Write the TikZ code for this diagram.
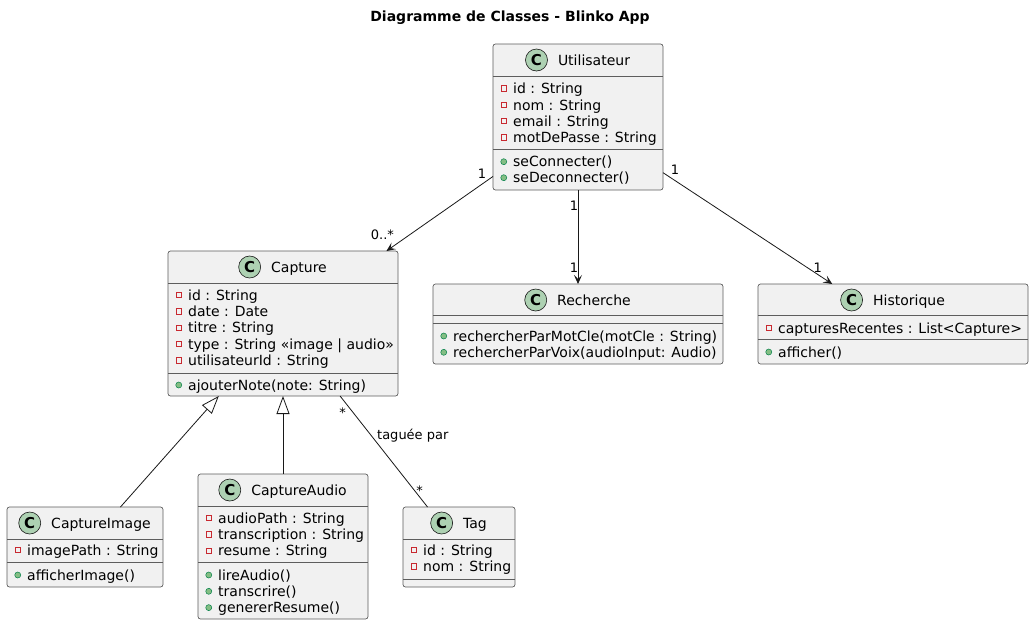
\documentclass[tikz,border=0pt]{standalone}
\usepackage{fontspec}
\setmainfont{DejaVu Sans}
\usetikzlibrary{positioning,arrows.meta}
\definecolor{boxfill}{HTML}{F1F1F1}
\definecolor{boxline}{HTML}{181818}
\definecolor{spotfill}{HTML}{ADD1B2}
\definecolor{privred}{HTML}{C82930}
\definecolor{pubfill}{HTML}{84BE84}
\definecolor{publine}{HTML}{038048}
\tikzstyle{classbox} = [rectangle, draw=boxline!70, fill=boxfill, line width=0.7pt,
    rounded corners=2.5pt, inner sep=0pt, outer sep=0pt]
\tikzstyle{classname} = [inner sep=0pt, font=\fontsize{14}{16}\selectfont,
    text height=10.5pt, text depth=0pt]
\tikzstyle{spot} = [circle, draw=boxline, fill=spotfill, line width=0.6pt,
    minimum size=22pt, inner sep=0pt, font=\fontsize{15}{16}\selectfont\bfseries]
\tikzstyle{member} = [anchor=west, inner sep=0pt, font=\fontsize{14}{16}\selectfont,
    text height=10.5pt, text depth=0pt]
\tikzstyle{privmark} = [rectangle, draw=privred, line width=0.6pt, minimum size=5.5pt, inner sep=0pt]
\tikzstyle{pubmark} = [circle, draw=publine, fill=pubfill, line width=0.5pt, minimum size=6pt, inner sep=0pt]
\tikzstyle{priv} = [member, label={[privmark, label distance=6pt]left:{}}]
\tikzstyle{pub} = [member, label={[pubmark, label distance=6pt]left:{}}]
\tikzstyle{sep} = [draw=boxline!70, line width=0.7pt]
\tikzstyle{line} = [draw=boxline, line width=0.8pt, -{Stealth[length=9pt,width=8pt,inset=4pt]}]
\tikzstyle{extends} = [draw=boxline, line width=0.8pt, -{Triangle[open,length=18pt,width=13pt]}]
\tikzstyle{link} = [draw=boxline, line width=0.8pt]
\tikzstyle{mult} = [font=\fontsize{13}{15}\selectfont, inner sep=0pt]

\begin{document}
\begin{tikzpicture}[x=1pt, y=-1pt]
    \fill[white] (0,0) rectangle (1034,625);
    \useasboundingbox (0,0) rectangle (1034,625);
    \node [font=\fontsize{14}{16}\selectfont\bfseries] (Title) at (510,18) {Diagramme de Classes - Blinko App};
    % Place classes
    \node [classbox, minimum width=170pt, minimum height=146pt] (Utilisateur) at (578,117) {};
    \node [classbox, minimum width=230pt, minimum height=145pt] (Capture) at (283,323.5) {};
    \node [classbox, minimum width=290pt, minimum height=80pt] (Recherche) at (578,324) {};
    \node [classbox, minimum width=270pt, minimum height=80pt] (Historique) at (893,324) {};
    \node [classbox, minimum width=156pt, minimum height=80pt] (CaptureImage) at (85,547) {};
    \node [classbox, minimum width=170pt, minimum height=145pt] (CaptureAudio) at (283,546.5) {};
    \node [classbox, minimum width=112pt, minimum height=80pt] (Tag) at (459,547) {};
    % Headers
    \node [classname] (UtilisateurName) at (594,60) {Utilisateur};
    \node [spot, left=10pt of UtilisateurName] (UtilisateurSpot) {C};
    \node [classname] (CaptureName) at (299,267) {Capture};
    \node [spot, left=10pt of CaptureName] (CaptureSpot) {C};
    \node [classname] (RechercheName) at (594,300) {Recherche};
    \node [spot, left=10pt of RechercheName] (RechercheSpot) {C};
    \node [classname] (HistoriqueName) at (909,300) {Historique};
    \node [spot, left=10pt of HistoriqueName] (HistoriqueSpot) {C};
    \node [classname] (CaptureImageName) at (101,523) {CaptureImage};
    \node [spot, left=10pt of CaptureImageName] (CaptureImageSpot) {C};
    \node [classname] (CaptureAudioName) at (299,490) {CaptureAudio};
    \node [spot, left=10pt of CaptureAudioName] (CaptureAudioSpot) {C};
    \node [classname] (TagName) at (475,523) {Tag};
    \node [spot, left=10pt of TagName] (TagSpot) {C};
    % Compartment lines
    \draw [sep] ([yshift=-32pt]Utilisateur.north west) -- ([yshift=-32pt]Utilisateur.north east);
    \draw [sep] ([yshift=-105pt]Utilisateur.north west) -- ([yshift=-105pt]Utilisateur.north east);
    \draw [sep] ([yshift=-32pt]Capture.north west) -- ([yshift=-32pt]Capture.north east);
    \draw [sep] ([yshift=-122pt]Capture.north west) -- ([yshift=-122pt]Capture.north east);
    \draw [sep] ([yshift=-31pt]Recherche.north west) -- ([yshift=-31pt]Recherche.north east);
    \draw [sep] ([yshift=-39pt]Recherche.north west) -- ([yshift=-39pt]Recherche.north east);
    \draw [sep] ([yshift=-31pt]Historique.north west) -- ([yshift=-31pt]Historique.north east);
    \draw [sep] ([yshift=-55pt]Historique.north west) -- ([yshift=-55pt]Historique.north east);
    \draw [sep] ([yshift=-32pt]CaptureImage.north west) -- ([yshift=-32pt]CaptureImage.north east);
    \draw [sep] ([yshift=-55pt]CaptureImage.north west) -- ([yshift=-55pt]CaptureImage.north east);
    \draw [sep] ([yshift=-32pt]CaptureAudio.north west) -- ([yshift=-32pt]CaptureAudio.north east);
    \draw [sep] ([yshift=-88pt]CaptureAudio.north west) -- ([yshift=-88pt]CaptureAudio.north east);
    \draw [sep] ([yshift=-32pt]Tag.north west) -- ([yshift=-32pt]Tag.north east);
    \draw [sep] ([yshift=-72pt]Tag.north west) -- ([yshift=-72pt]Tag.north east);
    % Members
    \node [priv] (UtilisateurId) at (513,88.5) {id : String};
    \node [priv] (UtilisateurNom) at (513,104.8) {nom : String};
    \node [priv] (UtilisateurEmail) at (513,121) {email : String};
    \node [priv] (UtilisateurMdp) at (513,137.3) {motDePasse : String};
    \node [pub] (UtilisateurCo) at (513,161.7) {seConnecter()};
    \node [pub] (UtilisateurDeco) at (513,177.7) {seDeconnecter()};
    \node [priv] (CaptureId) at (188,295) {id : String};
    \node [priv] (CaptureDate) at (188,311.3) {date : Date};
    \node [priv] (CaptureTitre) at (188,327.6) {titre : String};
    \node [priv] (CaptureType) at (188,344) {type : String «image | audio»};
    \node [priv] (CaptureUser) at (188,360.3) {utilisateurId : String};
    \node [pub] (CaptureNote) at (188,385) {ajouterNote(note: String)};
    \node [pub] (RechercheMotCle) at (453,336) {rechercherParMotCle(motCle : String)};
    \node [pub] (RechercheVoix) at (453,352.3) {rechercherParVoix(audioInput: Audio)};
    \node [priv] (HistoriqueListe) at (778,328) {capturesRecentes : List<Capture>};
    \node [pub] (HistoriqueAff) at (778,352) {afficher()};
    \node [priv] (CaptureImagePath) at (27,550) {imagePath : String};
    \node [pub] (CaptureImageAff) at (27,575) {afficherImage()};
    \node [priv] (CaptureAudioPath) at (218,518) {audioPath : String};
    \node [priv] (CaptureAudioTrans) at (218,534.3) {transcription : String};
    \node [priv] (CaptureAudioRes) at (218,550.6) {resume : String};
    \node [pub] (CaptureAudioLire) at (218,575) {lireAudio()};
    \node [pub] (CaptureAudioTranscr) at (218,591.3) {transcrire()};
    \node [pub] (CaptureAudioGen) at (218,607.6) {genererResume()};
    \node [priv] (TagId) at (423,550) {id : String};
    \node [priv] (TagNom) at (423,566.3) {nom : String};
    % Draw edges
    \path [line] (Utilisateur) -- node[mult, pos=0, xshift=-11pt, yshift=3pt] (mCapA) {1}
        node[mult, pos=1, xshift=-4pt, yshift=16pt] (mCapB) {0..*} (Capture);
    \path [line] (Utilisateur) -- node[mult, pos=0, xshift=-4pt, yshift=-15.5pt] (mRechA) {1}
        node[mult, pos=1, xshift=-4pt, yshift=16pt] (mRechB) {1} (Recherche);
    \path [line] (Utilisateur) -- node[mult, pos=0, xshift=12pt, yshift=3pt] (mHistA) {1}
        node[mult, pos=1, xshift=-14.5pt, yshift=16pt] (mHistB) {1} (Historique);
    \path [extends] (CaptureImage) -- (Capture);
    \path [extends] (CaptureAudio) -- (Capture);
    \path [link] (Capture) -- node[mult, pos=0, xshift=2.5pt, yshift=-17pt] (mTagA) {*}
        node[mult, pos=0.5, xshift=29pt, yshift=15.5pt] (mTagLabel) {taguée par}
        node[mult, pos=1, xshift=-8pt, yshift=16pt] (mTagB) {*} (Tag);
\end{tikzpicture}
\end{document}
